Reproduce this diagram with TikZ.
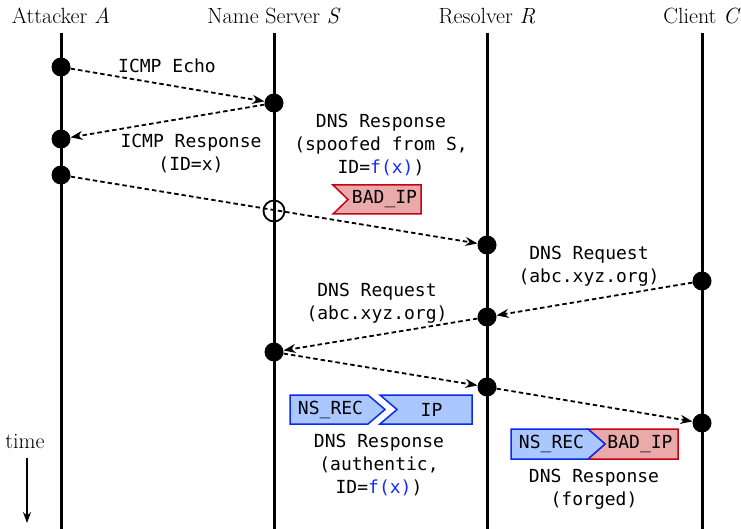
\documentclass[tikz,border=0pt]{standalone}
\usepackage{fontspec}
\setmonofont{DejaVu Sans Mono}
\usetikzlibrary{arrows.meta}
\definecolor{redfill}{RGB}{234,170,170}
\definecolor{redline}{RGB}{200,0,20}
\definecolor{bluefill}{RGB}{170,200,255}
\definecolor{blueline}{RGB}{10,40,240}
\definecolor{fblue}{RGB}{20,40,255}
\begin{document}
\begin{tikzpicture}[x=1pt,y=-1pt,
 lifeline/.style={line width=3pt},
 hdr/.style={font=\fontsize{22}{26}\selectfont, inner sep=0pt, anchor=base},
 lbl/.style={font=\fontsize{18}{23}\selectfont\ttfamily, align=center, inner sep=0pt, anchor=base},
 tagtxt/.style={font=\fontsize{18}{23}\selectfont\ttfamily, inner sep=0pt},
 evt/.style={circle, fill=black, inner sep=0pt, minimum size=19pt},
 xevt/.style={circle, draw=black, line width=1.8pt, inner sep=0pt, minimum size=21pt},
 msg/.style={line width=1.8pt, dash pattern=on 4.5pt off 3pt, -{Stealth[length=12pt,width=9pt]}},
 redtag/.style={fill=redfill, draw=redline, line width=1.5pt, line join=miter},
 bluetag/.style={fill=bluefill, draw=blueline, line width=1.5pt, line join=miter}]
\useasboundingbox (0,0) rectangle (741,529);
% headers
\node[hdr] (hA) at (61,24) {Attacker \textit{A}};
\node[hdr] (hS) at (274,24) {Name Server \textit{S}};
\node[hdr] (hR) at (487,24) {Resolver \textit{R}};
\node[hdr] (hC) at (702,24) {Client \textit{C}};
% lifelines
\coordinate (tA) at (61,33); \coordinate (bA) at (61,529);
\coordinate (tS) at (274,33); \coordinate (bS) at (274,529);
\coordinate (tR) at (487,33); \coordinate (bR) at (487,529);
\coordinate (tC) at (702,33); \coordinate (bC) at (702,529);
\draw[lifeline] (tA) -- (bA);
\draw[lifeline] (tS) -- (bS);
\draw[lifeline] (tR) -- (bR);
\draw[lifeline] (tC) -- (bC);
% events
\node[evt] (a1) at (61,67) {};
\node[evt] (s1) at (274,103) {};
\node[evt] (a2) at (61,139) {};
\node[evt] (a3) at (61,175) {};
\node[xevt] (sx) at (274,211) {};
\node[evt] (r1) at (487,245) {};
\node[evt] (c1) at (702,281) {};
\node[evt] (r2) at (487,317) {};
\node[evt] (s2) at (274,352) {};
\node[evt] (r3) at (487,387) {};
\node[evt] (c2) at (702,423) {};
% messages
\draw[msg] (a1) -- (s1);
\draw[msg] (s1) -- (a2);
\draw[msg] (a3) -- (r1);
\draw[msg] (c1) -- (r2);
\draw[msg] (r2) -- (s2);
\draw[msg] (s2) -- (r3);
\draw[msg] (r3) -- (c2);
% labels (base = baseline of last line)
\node[lbl] (l1) at (167,73) {ICMP Echo};
\node[lbl] (l2) at (191,171) {ICMP Response\\(ID=x)};
\node[lbl] (l3) at (381,174) {DNS Response\\(spoofed from S,\\ID=\textcolor{fblue}{f(x)})};
\node[lbl] (l4) at (589,283) {DNS Request\\(abc.xyz.org)};
\node[lbl] (l5) at (377,319) {DNS Request\\(abc.xyz.org)};
\node[lbl] (l6) at (379,493) {DNS Response\\(authentic,\\ID=\textcolor{fblue}{f(x)})};
\node[lbl] (l7) at (594,505) {DNS Response\\(forged)};
% tags
\draw[redtag] (333,185) -- (421,185) -- (421,214) -- (333,214) -- (348,199.5) -- cycle;
\node[tagtxt] (t1) at (384.5,199.5) {BAD\_IP};
\draw[bluetag] (290,395) -- (368,395) -- (385,409.5) -- (368,424) -- (290,424) -- cycle;
\node[tagtxt] (t2) at (330.5,409.5) {NS\_REC};
\draw[bluetag] (380,395) -- (472,395) -- (472,424) -- (380,424) -- (397,409.5) -- cycle;
\node[tagtxt] (t3) at (431.5,409.5) {IP};
\draw[redtag] (588,429) -- (678,429) -- (678,459) -- (588,459) -- (605,444) -- cycle;
\draw[bluetag] (511,429) -- (588,429) -- (605,444) -- (588,459) -- (511,459) -- cycle;
\node[tagtxt] (t4) at (551.5,444) {NS\_REC};
\node[tagtxt] (t5) at (640,444) {BAD\_IP};
% time
\node[hdr] (tm) at (25,448) {time};
\coordinate (ts) at (27,458);
\coordinate (te) at (27,523);
\draw[line width=1.5pt, -{Stealth[length=11pt,width=8pt]}] (ts) -- (te);
\end{tikzpicture}
\end{document}
